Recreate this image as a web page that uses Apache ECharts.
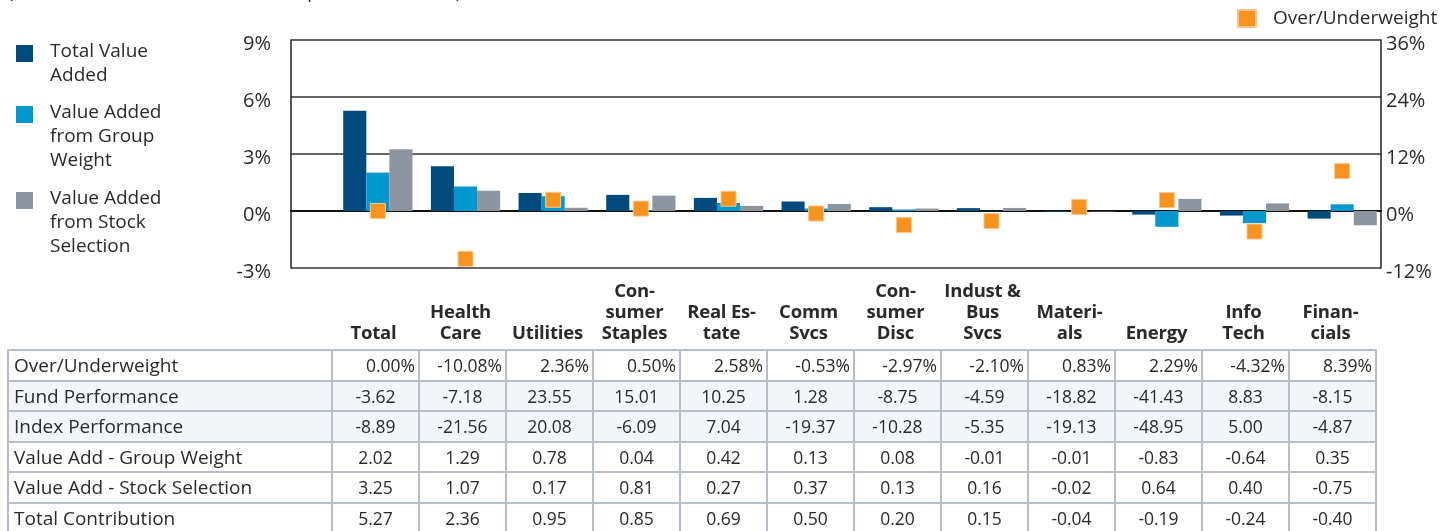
<!DOCTYPE html>
<html>
<head>
<meta charset="utf-8">
<script src="https://cdn.jsdelivr.net/npm/echarts@6/dist/echarts.min.js"></script>
<style>
  html, body { margin: 0; padding: 0; background: #fff; }
  body { width: 1450px; height: 531px; position: relative; overflow: hidden;
         font-family: "Open Sans", "Liberation Sans", Arial, sans-serif; color: #2a2a2a; }
  #chart { position: absolute; left: 0; top: 0; width: 1450px; height: 531px; }
  #head { position: absolute; left: 330px; top: 267px; height: 75px; display: flex; }
  #head div { width: 87px; height: 75px; display: flex; align-items: flex-end; justify-content: center;
              text-align: center; font-weight: bold; font-size: 18.5px; line-height: 21px; white-space: pre;
              letter-spacing: -0.2px; }
  #tbl { position: absolute; left: 7px; top: 349px; border-collapse: collapse; table-layout: fixed; }
  #tbl td { border: 2px solid #b6bec8; height: 28.5px; padding: 0 4px; font-size: 17.5px; white-space: nowrap; }
  #tbl td.lab { width: 313px; text-align: left; padding-left: 5px; font-size: 19px; }
  #tbl td.num { width: 77px; text-align: center; }
  #tbl tr.pct td.num { text-align: right; padding-right: 3px; }
  #tbl tr.shade td { background: #f3f6f8; }
</style>
</head>
<body>
<div id="chart"></div>
<div id="head"></div>
<table id="tbl"></table>
<script>
// categories (chart + table header)
var categories = ['Total', 'Health Care', 'Utilities', 'Consumer Staples', 'Real Estate', 'Comm Svcs',
                  'Consumer Disc', 'Indust & Bus Svcs', 'Materials', 'Energy', 'Info Tech', 'Financials'];
var headerLabels = ['Total', 'Health\nCare', 'Utilities', 'Con-\nsumer\nStaples', 'Real Es-\ntate', 'Comm\nSvcs',
                    'Con-\nsumer\nDisc', 'Indust &\nBus\nSvcs', 'Materi-\nals', 'Energy', 'Info\nTech', 'Finan-\ncials'];

// table rows / series values
var overUnder    = [0.00, -10.08, 2.36, 0.50, 2.58, -0.53, -2.97, -2.10, 0.83, 2.29, -4.32, 8.39];
var fundPerf     = [-3.62, -7.18, 23.55, 15.01, 10.25, 1.28, -8.75, -4.59, -18.82, -41.43, 8.83, -8.15];
var indexPerf    = [-8.89, -21.56, 20.08, -6.09, 7.04, -19.37, -10.28, -5.35, -19.13, -48.95, 5.00, -4.87];
var groupWeight  = [2.02, 1.29, 0.78, 0.04, 0.42, 0.13, 0.08, -0.01, -0.01, -0.83, -0.64, 0.35];
var stockSel     = [3.25, 1.07, 0.17, 0.81, 0.27, 0.37, 0.13, 0.16, -0.02, 0.64, 0.40, -0.75];
var totalContrib = [5.27, 2.36, 0.95, 0.85, 0.69, 0.50, 0.20, 0.15, -0.04, -0.19, -0.24, -0.40];

var seriesNames = ['Total Value Added', 'Value Added from Group Weight', 'Value Added from Stock Selection'];
var legendLines = ['Total Value\nAdded', 'Value Added\nfrom Group\nWeight', 'Value Added\nfrom Stock\nSelection'];
var colors = ['#004a7c', '#0097cd', '#8c96a1'];
var orange = '#f7931e';

// ---- table ----
var head = document.getElementById('head');
headerLabels.forEach(function (h) {
    var d = document.createElement('div');
    d.textContent = h;
    head.appendChild(d);
});

var rows = [
    ['Over/Underweight', overUnder, 'pct'],
    ['Fund Performance', fundPerf, 'shade'],
    ['Index Performance', indexPerf, 'shade'],
    ['Value Add - Group Weight', groupWeight, ''],
    ['Value Add - Stock Selection', stockSel, ''],
    ['Total Contribution', totalContrib, '']
];
var tbl = document.getElementById('tbl');
rows.forEach(function (r) {
    var tr = document.createElement('tr');
    tr.className = r[2];
    var td = document.createElement('td');
    td.className = 'lab';
    td.textContent = r[0];
    tr.appendChild(td);
    r[1].forEach(function (v) {
        var c = document.createElement('td');
        c.className = 'num';
        c.textContent = v.toFixed(2) + (r[2] === 'pct' ? '%' : '');
        tr.appendChild(c);
    });
    tbl.appendChild(tr);
});

// ---- chart ----
var chart = echarts.init(document.getElementById('chart'));
var font = '"Open Sans", "Liberation Sans", Arial, sans-serif';

// left legend drawn as graphics
var legendGraphics = [];
var legendTops = [45, 106, 192];
legendLines.forEach(function (t, i) {
    legendGraphics.push({ type: 'rect', left: 16, top: legendTops[i], shape: { width: 17, height: 17 },
        style: { fill: colors[i] } });
    legendGraphics.push({ type: 'text', left: 50, top: legendTops[i] - 5,
        style: { text: t, font: '19px ' + font, lineHeight: 24, fill: '#2a2a2a' } });
});
legendGraphics.push({ type: 'text', left: 8, top: -16,
    style: { text: '(In Percent for Six Months Ended September 30, 2020)', font: '18px ' + font, fill: '#2a2a2a' } });

var axisLabelStyle = { fontSize: 20, color: '#2a2a2a', padding: [8, 0, 0, 0] };

var option = {
    animation: false,
    textStyle: { fontFamily: font },
    graphic: legendGraphics,
    legend: {
        data: ['Over/Underweight'],
        left: 1237, top: 9, padding: 0,
        itemWidth: 18, itemHeight: 17, icon: 'rect',
        textStyle: { fontSize: 19, color: '#2a2a2a', padding: [0, 0, 0, 12] }
    },
    grid: [
        { left: 291, right: 69, top: 40, bottom: 263 },
        { left: 334, right: 64, top: 40, bottom: 263 }
    ],
    xAxis: [
        { type: 'category', gridIndex: 0, data: [''], axisTick: { show: false }, axisLabel: { show: false },
          axisLine: { onZero: true, lineStyle: { color: '#111', width: 2 } } },
        { type: 'category', gridIndex: 1, data: categories, show: false }
    ],
    yAxis: [
        { type: 'value', gridIndex: 0, min: -3, max: 9, interval: 3,
          axisLine: { show: true, lineStyle: { color: '#222', width: 1.5 } }, axisTick: { show: false },
          axisLabel: { formatter: '{a|{value}%}', margin: 20, rich: { a: axisLabelStyle } },
          splitLine: { lineStyle: { color: '#333', width: 1.5 } } },
        { type: 'value', gridIndex: 0, min: -12, max: 36, interval: 12, position: 'right',
          axisLine: { show: true, lineStyle: { color: '#222', width: 1.5 } },
          axisTick: { show: false },
          axisLabel: { formatter: '{a|{value}%}', margin: 5, rich: { a: axisLabelStyle } },
          splitLine: { show: false } },
        { type: 'value', gridIndex: 1, min: -3, max: 9, show: false, splitLine: { show: false } },
        { type: 'value', gridIndex: 1, min: -12, max: 36, show: false, splitLine: { show: false } }
    ],
    series: [
        { name: seriesNames[0], type: 'bar', xAxisIndex: 1, yAxisIndex: 2, data: totalContrib,
          itemStyle: { color: colors[0] }, barGap: '0%', barCategoryGap: '21%' },
        { name: seriesNames[1], type: 'bar', xAxisIndex: 1, yAxisIndex: 2, data: groupWeight,
          itemStyle: { color: colors[1] } },
        { name: seriesNames[2], type: 'bar', xAxisIndex: 1, yAxisIndex: 2, data: stockSel,
          itemStyle: { color: colors[2] } },
        { name: 'Over/Underweight', type: 'scatter', xAxisIndex: 1, yAxisIndex: 3, data: overUnder,
          symbol: 'rect', symbolSize: 15, z: 5,
          itemStyle: { color: orange, borderColor: '#fcc68c', borderWidth: 1, opacity: 1 } }
    ]
};
chart.setOption(option);
</script>
</body>
</html>
